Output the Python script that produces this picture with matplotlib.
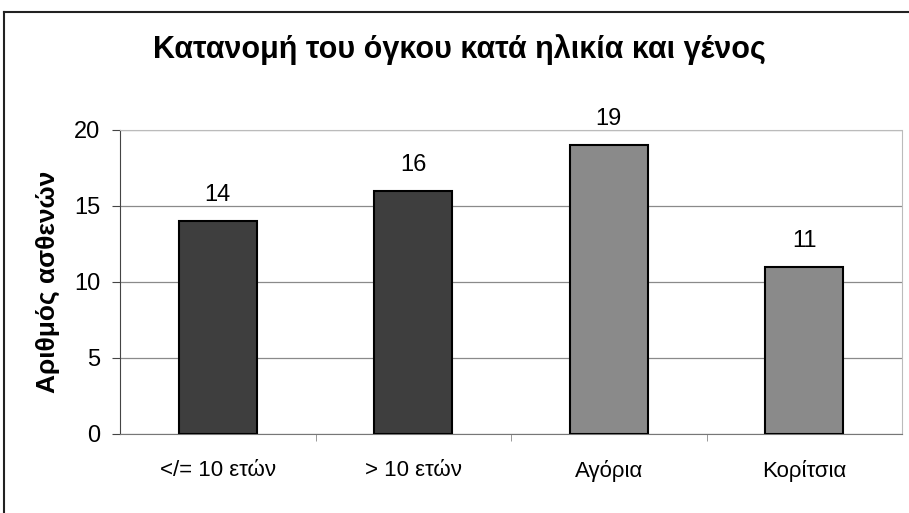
import numpy as np
import matplotlib.pyplot as plt
from matplotlib.lines import Line2D

plt.rcParams['font.family'] = ['Liberation Sans', 'DejaVu Sans']

categories = ['</= 10 ετών', '> 10 ετών', 'Αγόρια', 'Κορίτσια']
values = [14, 16, 19, 11]
colors = ['#3e3e3e', '#3e3e3e', '#8a8a8a', '#8a8a8a']

fig = plt.figure(figsize=(9.09, 5.13), dpi=100)
ax = fig.add_axes([120 / 909, 1 - 434 / 513, 782 / 909, 304 / 513])

x = np.arange(len(categories))
bars = ax.bar(x, values, width=0.4, color=colors, edgecolor='black', linewidth=1.5, zorder=3)
for b, v in zip(bars, values):
    ax.text(b.get_x() + b.get_width() / 2, v + 1.0, str(v), ha='center', va='bottom', fontsize=17)

ax.set_xlim(-0.5, len(categories) - 0.5)
ax.set_ylim(0, 20)
ax.set_yticks([0, 5, 10, 15, 20])
ax.tick_params(axis='y', labelsize=17, length=6, direction='out', color='#444444', pad=8)
ax.set_xticks(x)
ax.set_xticklabels(categories, fontsize=16)
ax.set_xticks(x[:-1] + 0.5, minor=True)
ax.tick_params(axis='x', which='major', length=0, pad=19)
ax.tick_params(axis='x', which='minor', length=5, color='#888888')
ax.yaxis.grid(True, color='#8a8a8a', linewidth=0.9, zorder=0)
ax.set_axisbelow(True)
for s in ['top', 'right']:
    ax.spines[s].set_color('#bbbbbb')
    ax.spines[s].set_linestyle((0, (3, 1)))
    ax.spines[s].set_linewidth(0.8)
ax.spines['left'].set_color('#444444')
ax.spines['bottom'].set_color('#777777')
ax.set_ylabel('Αριθμός ασθενών', fontsize=19, fontweight='bold', labelpad=10)

fig.text(0.505, 1 - 50 / 513, 'Κατανομή του όγκου κατά ηλικία και γένος', ha='center', va='center',
         fontsize=22, fontweight='bold')

# outer chart frame (top and left edges visible)
fig.add_artist(Line2D([4 / 909, 1], [1 - 12 / 513, 1 - 12 / 513], color='#222222', linewidth=1.5))
fig.add_artist(Line2D([4 / 909, 4 / 909], [0, 1 - 12 / 513], color='#222222', linewidth=1.5))

fig.savefig('out.png', dpi=100)
